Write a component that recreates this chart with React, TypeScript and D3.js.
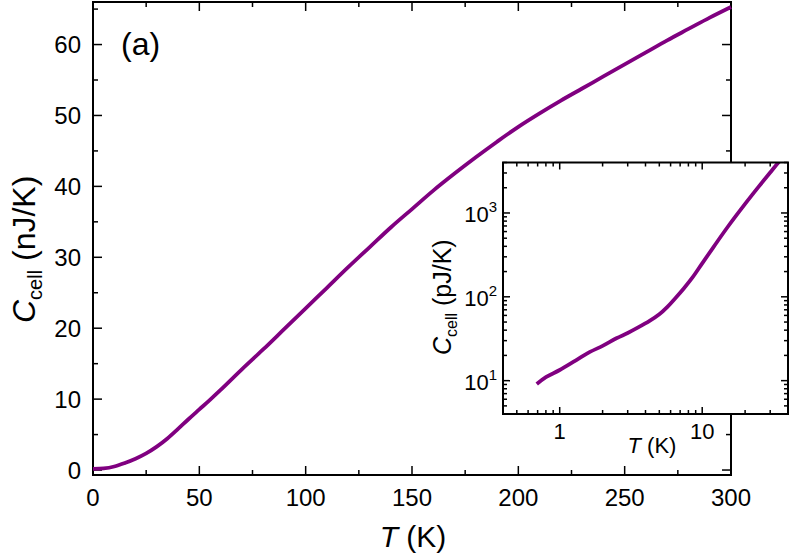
import React from "react"
import * as d3 from "d3"

// main panel: C_cell (nJ/K) vs T (K)
const mainT = [0, 5, 10, 15, 20, 25, 30, 35, 40, 45, 50, 55, 60, 70, 80, 90, 100, 110, 120, 130, 140, 150, 160, 170, 180, 190, 200, 210, 220, 230, 240, 250, 260, 270, 280, 290, 300]
const mainC = [0.15, 0.22, 0.5, 1.0, 1.6, 2.35, 3.3, 4.45, 5.8, 7.2, 8.55, 9.9, 11.3, 14.2, 17.0, 19.9, 22.8, 25.7, 28.6, 31.4, 34.2, 36.8, 39.4, 41.8, 44.1, 46.3, 48.4, 50.3, 52.1, 53.8, 55.5, 57.2, 58.9, 60.6, 62.2, 63.8, 65.3]

// inset: C_cell (pJ/K) vs T (K), log-log
const insetT = [0.69, 0.8, 1.0, 1.3, 1.63, 2.0, 2.5, 3.0, 3.5, 4.3, 5.0, 5.7, 6.5, 7.4, 8.5, 10, 12, 15, 20, 25, 30, 35, 40]
const insetC = [9.1, 11, 13.4, 17.5, 22, 26, 32, 37, 42.5, 52, 62, 76, 97, 125, 168, 251, 392, 671, 1283, 2075, 3040, 4170, 5300]

const xTicks = [0, 50, 100, 150, 200, 250, 300]
const xMinor = [25, 75, 125, 175, 225, 275]
const yTicks = [0, 10, 20, 30, 40, 50, 60]
const yMinor = [5, 15, 25, 35, 45, 55, 65]

const inXTicks = [1, 10]
const inXLabels = ["1", "10"]
const inXMinor = [0.4, 0.5, 0.6, 0.7, 0.8, 0.9, 2, 3, 4, 5, 6, 7, 8, 9, 20, 30, 40]
const inYTicks = [10, 100, 1000]
const inYExp = ["1", "2", "3"]
const inYMinor = [4, 5, 6, 7, 8, 9, 20, 30, 40, 50, 60, 70, 80, 90, 200, 300, 400, 500, 600, 700, 800, 900, 2000, 3000, 4000]

const purple = "#800080"
const font = "'Liberation Sans', Arial, Helvetica, sans-serif"

export default function App() {
  const x = d3.scaleLinear().domain([0, 300]).range([93, 731])
  const y = d3.scaleLinear().domain([-0.7, 66]).range([475, 2])

  const ix = d3.scaleLog().domain([0.4, 40]).range([503, 788])
  const iy = d3.scaleLog().domain([4, 4000]).range([414, 162.5])

  const mainLine = d3.line<number>()
    .x((d, i) => x(mainT[i]))
    .y(d => y(d))
    .curve(d3.curveCatmullRom)

  const insetLine = d3.line<number>()
    .x((d, i) => ix(insetT[i]))
    .y(d => iy(d))
    .curve(d3.curveCatmullRom)

  const [x0, x1] = x.range()
  const [y0, y1] = y.range()
  const [ix0, ix1] = ix.range()
  const [iy0, iy1] = iy.range()

  return (
    <svg width={789} height={556} style={{ position: "absolute", left: 0, top: 0, background: "#fff" }} fontFamily={font}>
      <defs>
        <clipPath id="insetClip">
          <rect x={ix0} y={iy1} width={ix1 - ix0} height={iy0 - iy1} />
        </clipPath>
      </defs>

      {/* main panel */}
      <g stroke="#000" strokeWidth={1.5}>
        {xTicks.map(t => (
          <g key={"xt" + t}>
            <line x1={x(t)} x2={x(t)} y1={y0} y2={y0 - 9} />
            <line x1={x(t)} x2={x(t)} y1={y1} y2={y1 + 9} />
          </g>
        ))}
        {xMinor.map(t => (
          <g key={"xm" + t}>
            <line x1={x(t)} x2={x(t)} y1={y0} y2={y0 - 5} />
            <line x1={x(t)} x2={x(t)} y1={y1} y2={y1 + 5} />
          </g>
        ))}
        {yTicks.map(t => (
          <g key={"yt" + t}>
            <line x1={x0} x2={x0 + 9} y1={y(t)} y2={y(t)} />
            <line x1={x1} x2={x1 - 9} y1={y(t)} y2={y(t)} />
          </g>
        ))}
        {yMinor.map(t => (
          <g key={"ym" + t}>
            <line x1={x0} x2={x0 + 5} y1={y(t)} y2={y(t)} />
            <line x1={x1} x2={x1 - 5} y1={y(t)} y2={y(t)} />
          </g>
        ))}
        <rect x={x0} y={y1} width={x1 - x0} height={y0 - y1} fill="none" strokeWidth={2} />
      </g>
      <path d={mainLine(mainC) || ""} fill="none" stroke={purple} strokeWidth={3.8} strokeLinejoin="round" />

      <g fontSize={24} fill="#000">
        {xTicks.map(t => (
          <text key={"xl" + t} x={x(t)} y={506} textAnchor="middle">{t}</text>
        ))}
        {yTicks.map(t => (
          <text key={"yl" + t} x={81} y={y(t) + 8.5} textAnchor="end">{t}</text>
        ))}
      </g>
      <text x={121} y={55} fontSize={32}>(a)</text>
      <text x={413} y={547} fontSize={30} textAnchor="middle">
        <tspan fontStyle="italic">T</tspan> (K)
      </text>
      <text transform="translate(35,323) rotate(-90)" fontSize={32}>
        <tspan fontStyle="italic">C</tspan>
        <tspan fontSize={20} dy={7}>cell</tspan>
        <tspan dy={-7}> (nJ/K)</tspan>
      </text>

      {/* inset */}
      <rect x={ix0} y={iy1} width={ix1 - ix0} height={iy0 - iy1} fill="#fff" />
      <path d={insetLine(insetC) || ""} fill="none" stroke={purple} strokeWidth={3.8} strokeLinejoin="round" clipPath="url(#insetClip)" />
      <g stroke="#000" strokeWidth={1.5}>
        {inXTicks.map(t => (
          <g key={"ixt" + t}>
            <line x1={ix(t)} x2={ix(t)} y1={iy0} y2={iy0 - 7} />
            <line x1={ix(t)} x2={ix(t)} y1={iy1} y2={iy1 + 7} />
          </g>
        ))}
        {inXMinor.map(t => (
          <g key={"ixm" + t}>
            <line x1={ix(t)} x2={ix(t)} y1={iy0} y2={iy0 - 4} />
            <line x1={ix(t)} x2={ix(t)} y1={iy1} y2={iy1 + 4} />
          </g>
        ))}
        {inYTicks.map(t => (
          <g key={"iyt" + t}>
            <line x1={ix0} x2={ix0 + 7} y1={iy(t)} y2={iy(t)} />
            <line x1={ix1} x2={ix1 - 7} y1={iy(t)} y2={iy(t)} />
          </g>
        ))}
        {inYMinor.map(t => (
          <g key={"iym" + t}>
            <line x1={ix0} x2={ix0 + 4} y1={iy(t)} y2={iy(t)} />
            <line x1={ix1} x2={ix1 - 4} y1={iy(t)} y2={iy(t)} />
          </g>
        ))}
        <rect x={ix0} y={iy1} width={ix1 - ix0} height={iy0 - iy1} fill="none" strokeWidth={2} />
      </g>
      <g fontSize={22} fill="#000">
        {inXTicks.map((t, i) => (
          <text key={"ixl" + t} x={ix(t)} y={439} textAnchor="middle">{inXLabels[i]}</text>
        ))}
        {inYTicks.map((t, i) => (
          <text key={"iyl" + t} x={497} y={iy(t) + 9} textAnchor="end">
            10<tspan fontSize={15} dy={-10}>{inYExp[i]}</tspan>
          </text>
        ))}
      </g>
      <text x={652} y={453} fontSize={22} textAnchor="middle">
        <tspan fontStyle="italic">T</tspan> (K)
      </text>
      <text transform="translate(451,355) rotate(-90)" fontSize={25}>
        <tspan fontStyle="italic">C</tspan>
        <tspan fontSize={16} dy={6}>cell</tspan>
        <tspan dy={-6}> (pJ/K)</tspan>
      </text>
    </svg>
  )
}
